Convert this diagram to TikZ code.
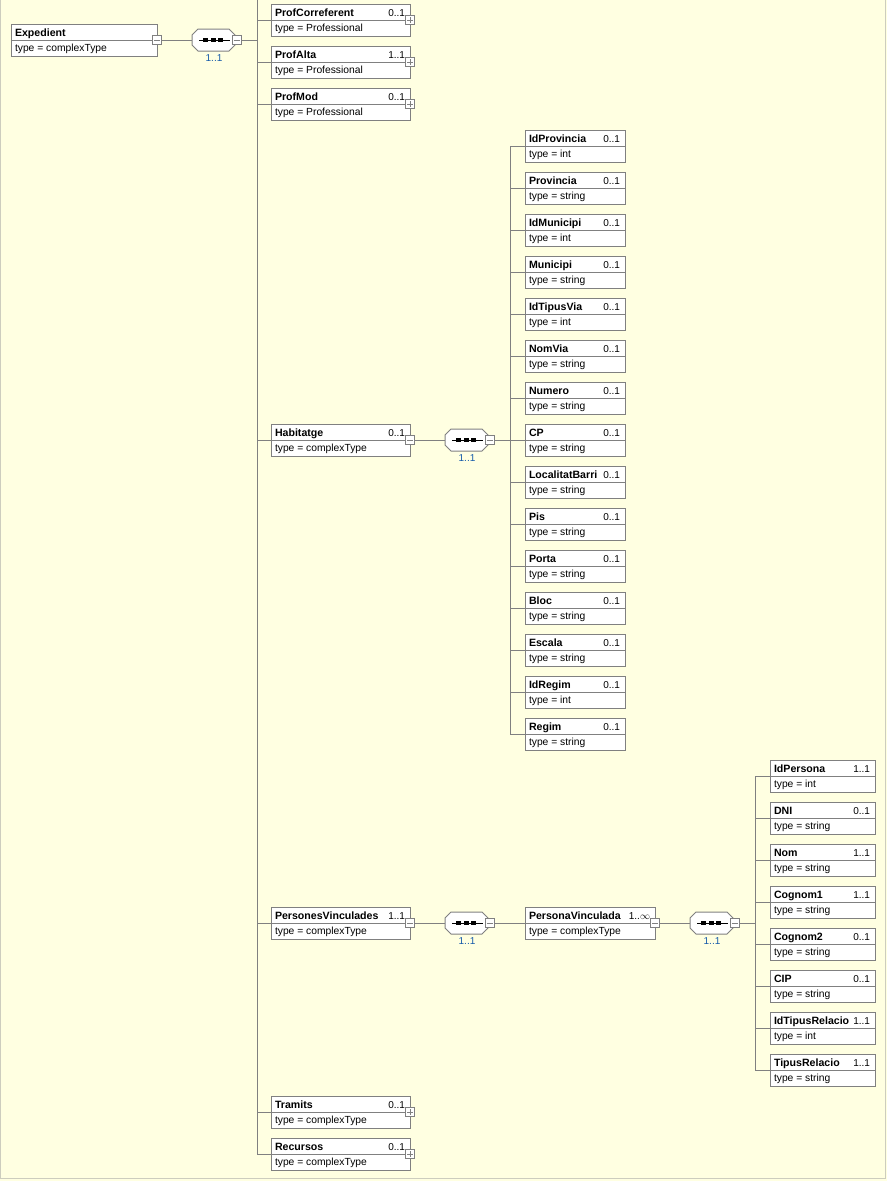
\documentclass[tikz,border=0pt]{standalone}
\usepackage{fontspec}
\setmainfont{Liberation Sans}
\usetikzlibrary{calc}
\definecolor{bgc}{RGB}{255,255,225}
\definecolor{lnc}{RGB}{128,128,128}
\definecolor{frc}{RGB}{205,205,190}
\definecolor{occ}{RGB}{20,90,170}
\tikzset{
 elbox/.style={draw=lnc, fill=white, line width=1pt, inner sep=0pt, outer sep=0pt, minimum height=32pt, rectangle},
 conn/.style={draw=lnc, line width=1pt},
 signline/.style={draw=lnc, line width=0.9pt},
 nametxt/.style={font=\fontsize{10.6}{12}\selectfont\bfseries, inner sep=0pt, outer sep=0pt},
 typetxt/.style={font=\fontsize{10.3}{12}\selectfont, inner sep=0pt, outer sep=0pt},
 multtxt/.style={font=\fontsize{10}{12}\selectfont, inner sep=0pt, outer sep=0pt},
 occtxt/.style={font=\fontsize{10}{12}\selectfont, inner sep=0pt, outer sep=0pt, text=occ},
 expbox/.style={draw=lnc, fill=white, line width=1pt, minimum size=9pt, inner sep=0pt, outer sep=0pt, rectangle},
 seqbox/.style={inner sep=0pt, outer sep=0pt, minimum width=43pt, minimum height=22pt, rectangle},
}
% element box: name, x, top, width, label, type
\newcommand{\xsdel}[6]{%
 \node[elbox, minimum width=#4pt, anchor=north west] (#1) at (#2,#3) {};
 \draw[conn] (#1.west) -- (#1.east);
 \node[nametxt, anchor=base west] (#1-n) at ($(#1.north west)+(4,12)$) {#5};
 \node[typetxt, anchor=base west] (#1-t) at ($(#1.north west)+(4,27.5)$) {type = #6};
}
\newcommand{\xsdmult}[2]{%
 \node[multtxt, anchor=base east] (#1-m) at ($(#1.north east)+(-5,12)$) {#2};
}
\newcommand{\xsdplus}[1]{%
 \node[expbox] (#1-x) at (#1.east) {};
 \draw[signline] ($(#1-x.center)+(-3,0)$) -- ($(#1-x.center)+(3,0)$)
   ($(#1-x.center)+(0,-3)$) -- ($(#1-x.center)+(0,3)$);
}
\newcommand{\xsdminus}[1]{%
 \node[expbox] (#1-x) at (#1.east) {};
 \draw[signline] ($(#1-x.center)+(-3,0)$) -- ($(#1-x.center)+(3,0)$);
}
% sequence compositor: name, left x, center y
\newcommand{\xsdseq}[3]{%
 \node[seqbox] (#1) at (#2+21.5,#3) {};
 \draw[draw=lnc, fill=white, line width=1pt]
   ($(#1.west)+(0,-5)$) -- ($(#1.north west)+(6,0)$) -- ($(#1.north east)+(-6,0)$) --
   ($(#1.east)+(0,-5)$) -- ($(#1.east)+(0,5)$) -- ($(#1.south east)+(-6,0)$) --
   ($(#1.south west)+(6,0)$) -- ($(#1.west)+(0,5)$) -- cycle;
 \draw[black, line width=1pt] ($(#1.west)+(7,0)$) -- ($(#1.west)+(38,0)$);
 \fill[black] ($(#1.west)+(11,-1.6)$) rectangle ($(#1.west)+(16,1.6)$);
 \fill[black] ($(#1.west)+(18.5,-1.6)$) rectangle ($(#1.west)+(23.5,1.6)$);
 \fill[black] ($(#1.west)+(26,-1.6)$) rectangle ($(#1.west)+(31,1.6)$);
 \node[expbox] (#1-x) at ($(#1.east)+(1.5,0)$) {};
 \draw[signline] ($(#1-x.center)+(-3,0)$) -- ($(#1-x.center)+(3,0)$);
 \node[occtxt, anchor=base] (#1-o) at ($(#1.south)+(0.5,10)$) {1..1};
}
\begin{document}
\begin{tikzpicture}[x=1pt,y=-1pt]
\useasboundingbox (0,0) rectangle (887,1181);
\fill[bgc] (0,0) rectangle (887,1181);
\draw[frc, line width=1pt] (0.5,0) -- (0.5,1178.5) -- (885.5,1178.5) -- (885.5,0);

% root
\xsdel{exp}{11}{24}{146}{Expedient}{complexType}
\xsdminus{exp}
\xsdseq{seqA}{192}{40}
\draw[conn] (exp-x.east) -- (seqA.west);
\coordinate (tA) at (257,0);
\draw[conn] (seqA-x.east) -- (tA |- seqA-x.east);

% level 1
\xsdel{pcor}{271}{4}{139}{ProfCorreferent}{Professional}\xsdmult{pcor}{0..1}\xsdplus{pcor}
\xsdel{palt}{271}{46}{139}{ProfAlta}{Professional}\xsdmult{palt}{1..1}\xsdplus{palt}
\xsdel{pmod}{271}{88}{139}{ProfMod}{Professional}\xsdmult{pmod}{0..1}\xsdplus{pmod}
\xsdel{hab}{271}{424}{139}{Habitatge}{complexType}\xsdmult{hab}{0..1}\xsdminus{hab}
\xsdel{pv}{271}{907}{139}{PersonesVinculades}{complexType}\xsdmult{pv}{1..1}\xsdminus{pv}
\xsdel{tram}{271}{1096}{139}{Tramits}{complexType}\xsdmult{tram}{0..1}\xsdplus{tram}
\xsdel{rec}{271}{1138}{139}{Recursos}{complexType}\xsdmult{rec}{0..1}\xsdplus{rec}
\draw[conn] (tA) -- (tA |- rec.west);
\foreach \k in {pcor,palt,pmod,hab,pv,tram,rec}{\draw[conn] (tA |- \k.west) -- (\k.west);}

% Habitatge
\xsdseq{seqB}{445}{440}
\draw[conn] (hab-x.east) -- (seqB.west);
\coordinate (tB) at (510,0);
\draw[conn] (seqB-x.east) -- (tB |- seqB-x.east);
\foreach \n/\t [count=\i from 0] in {IdProvincia/int,Provincia/string,IdMunicipi/int,Municipi/string,IdTipusVia/int,NomVia/string,Numero/string,CP/string,LocalitatBarri/string,Pis/string,Porta/string,Bloc/string,Escala/string,IdRegim/int,Regim/string}{%
 \pgfmathsetmacro{\tp}{130+42*\i}
 \xsdel{h\i}{525}{\tp}{100}{\n}{\t}
 \xsdmult{h\i}{0..1}
 \draw[conn] (tB |- h\i.west) -- (h\i.west);
}
\draw[conn] (tB |- h0.west) -- (tB |- h14.west);

% PersonesVinculades
\xsdseq{seqC}{445}{923}
\draw[conn] (pv-x.east) -- (seqC.west);
\xsdel{pvc}{525}{907}{130}{PersonaVinculada}{complexType}\xsdmult{pvc}{1..$\infty$}\xsdminus{pvc}
\draw[conn] (seqC-x.east) -- (pvc.west);
\xsdseq{seqD}{690}{923}
\draw[conn] (pvc-x.east) -- (seqD.west);
\coordinate (tD) at (755,0);
\draw[conn] (seqD-x.east) -- (tD |- seqD-x.east);
\foreach \n/\m/\t [count=\i from 0] in {IdPersona/1..1/int,DNI/0..1/string,Nom/1..1/string,Cognom1/1..1/string,Cognom2/0..1/string,CIP/0..1/string,IdTipusRelacio/1..1/int,TipusRelacio/1..1/string}{%
 \pgfmathsetmacro{\tp}{760+42*\i}
 \xsdel{p\i}{770}{\tp}{105}{\n}{\t}
 \xsdmult{p\i}{\m}
 \draw[conn] (tD |- p\i.west) -- (p\i.west);
}
\draw[conn] (tD |- p0.west) -- (tD |- p7.west);
\end{tikzpicture}
\end{document}
